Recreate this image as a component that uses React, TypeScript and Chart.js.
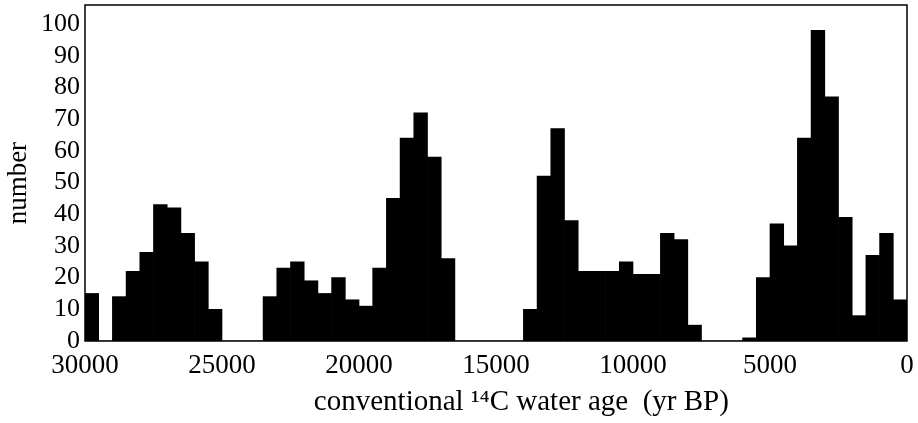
import React, { useEffect, useRef } from "react";
import { Chart, registerables } from "chart.js";

Chart.register(...registerables);

// Bin centres (conventional 14C water age, yr BP), 500-yr bins from 30000 to 0
const binCenters = [
  29750, 29250, 28750, 28250, 27750, 27250, 26750, 26250, 25750, 25250,
  24750, 24250, 23750, 23250, 22750, 22250, 21750, 21250, 20750, 20250,
  19750, 19250, 18750, 18250, 17750, 17250, 16750, 16250, 15750, 15250,
  14750, 14250, 13750, 13250, 12750, 12250, 11750, 11250, 10750, 10250,
  9750, 9250, 8750, 8250, 7750, 7250, 6750, 6250, 5750, 5250,
  4750, 4250, 3750, 3250, 2750, 2250, 1750, 1250, 750, 250,
];

// Number of samples in each bin
const counts = [
  15, 0, 14, 22, 28, 43, 42, 34, 25, 10,
  0, 0, 0, 14, 23, 25, 19, 15, 20, 13,
  11, 23, 45, 64, 72, 58, 26, 0, 0, 0,
  0, 0, 10, 52, 67, 38, 22, 22, 22, 25,
  21, 21, 34, 32, 5, 0, 0, 0, 1, 20,
  37, 30, 64, 98, 77, 39, 8, 27, 34, 13,
];

const yTickValues = [0, 10, 20, 30, 40, 50, 60, 70, 80, 90, 100];
const xTickValues = [30000, 25000, 20000, 15000, 10000, 5000, 0];

const xTitle = "       conventional \u00B9\u2074C water age  (yr BP)";
const yTitle = "number   ";

const FONT = "'Liberation Serif', 'Times New Roman', serif";

const framePlugin = {
  id: "frame",
  afterDatasetsDraw(chart: any) {
    const { ctx, chartArea } = chart;
    ctx.save();
    ctx.strokeStyle = "#000";
    ctx.lineWidth = 1.5;
    ctx.strokeRect(chartArea.left, chartArea.top, chartArea.right - chartArea.left, chartArea.bottom - chartArea.top);
    ctx.restore();
  },
};

export default function App() {
  const ref = useRef<HTMLCanvasElement | null>(null);

  useEffect(() => {
    if (!ref.current) return;
    Chart.defaults.color = "#000";
    const chart = new Chart(ref.current, {
      type: "bar",
      data: {
        datasets: [
          {
            data: binCenters.map((x, i) => ({ x, y: counts[i] })),
            backgroundColor: "#000",
            borderColor: "#000",
            borderWidth: 0,
            barPercentage: 1,
            categoryPercentage: 1,
          },
        ],
      },
      options: {
        animation: false,
        responsive: true,
        maintainAspectRatio: false,
        layout: { padding: { top: 5, right: 11, left: 0, bottom: 0 } },
        plugins: { legend: { display: false }, tooltip: { enabled: false } },
        scales: {
          x: {
            type: "linear",
            min: 0,
            max: 30000,
            reverse: true,
            offset: false,
            grid: { display: false, drawTicks: false, offset: false },
            border: { display: false },
            afterBuildTicks: (scale: any) => {
              scale.ticks = xTickValues.map((v) => ({ value: v }));
            },
            afterFit: (scale: any) => {
              scale.height = 82;
              scale.paddingLeft = 0;
              scale.paddingRight = 0;
            },
            ticks: {
              padding: 9,
              maxRotation: 0,
              autoSkip: false,
              font: { family: FONT, size: 27 },
              callback: (v: any) => String(v),
            },
            title: {
              display: true,
              text: xTitle,
              font: { family: FONT, size: 29 },
              padding: { top: 0, bottom: 3 },
            },
          },
          y: {
            type: "linear",
            min: 0,
            max: 106,
            grid: { display: false, drawTicks: false },
            border: { display: false },
            afterBuildTicks: (scale: any) => {
              scale.ticks = yTickValues.map((v) => ({ value: v }));
            },
            afterFit: (scale: any) => {
              scale.width = 85;
              scale.paddingTop = 0;
              scale.paddingBottom = 0;
            },
            ticks: {
              padding: 5,
              autoSkip: false,
              font: { family: FONT, size: 26 },
              callback: (v: any) => String(v),
            },
            title: {
              display: true,
              text: yTitle,
              font: { family: FONT, size: 27 },
              padding: { top: 3, bottom: 0 },
            },
          },
        },
      },
      plugins: [framePlugin],
    });
    return () => chart.destroy();
  }, []);

  return (
    <div style={{ position: "fixed", left: 0, top: 0, width: 918, height: 423, background: "#fff" }}>
      <canvas ref={ref} />
    </div>
  );
}
